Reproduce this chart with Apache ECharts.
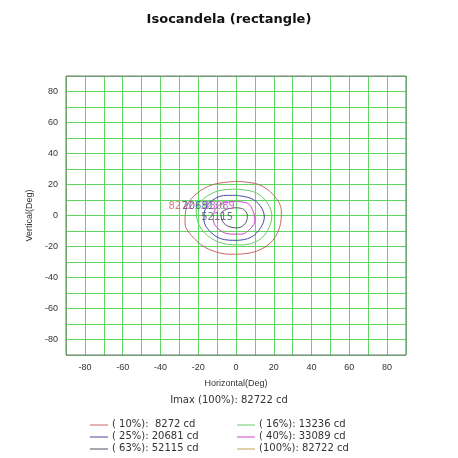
<!DOCTYPE html>
<html><head><meta charset="utf-8">
<script src="https://cdn.jsdelivr.net/npm/echarts@6/dist/echarts.min.js"></script>
<style>html,body{margin:0;padding:0;background:#fff}#c{width:458px;height:458px}</style>
</head><body><div id="c"></div>
<script>
const xTicks = [-80,-60,-40,-20,0,20,40,60,80];
const levelNames = ['( 10%):  8272 cd','( 16%): 13236 cd','( 25%): 20681 cd','( 40%): 33089 cd','( 63%): 52115 cd','(100%): 82722 cd'];
const levelValues = ['8272','13236','20681','33089','52115','82722'];
const colors = ['#c86464','#66cc66','#4646a0','#c846c8','#505064','#c8a050'];
const c10 = [[0,22],[12,20],[20,13],[24,3],[23,-8],[18,-18],[8,-24],[-3,-25],[-14,-22],[-22,-15],[-27,-5],[-26,6],[-21,14],[-12,20],[0,22]];
const c16 = [[0,17],[10,15],[16,9],[19,0],[17,-9],[12,-16],[3,-19],[-7,-18],[-15,-13],[-20,-5],[-21,4],[-17,11],[-9,16],[0,17]];
const c25 = [[0,13],[8,11],[13,6],[15,-1],[13,-8],[8,-14],[0,-16],[-8,-15],[-14,-10],[-17,-3],[-16,5],[-11,11],[-5,13],[0,13]];
const c40 = [[0,9],[6,8],[9,3],[10,-3],[8,-8],[3,-12],[-3,-12],[-9,-9],[-12,-3],[-11,4],[-7,8],[0,9]];
const c63 = [[0,5],[4,4],[6,0],[5,-5],[1,-8],[-4,-7],[-7,-4],[-8,1],[-5,4],[0,5]];
const c100 = [[0,0]];
const labelPos = [[-29,6],[-14,6],[-20,6],[-9,6],[-10,-1],[-6,6]];
const contours = [c10,c16,c25,c40,c63,c100];

const chart = echarts.init(document.getElementById('c'));
const series = contours.map((d,i)=>({type:'line',data:d,showSymbol:false,symbol:'none',smooth:0.35,z:3,
  lineStyle:{color:colors[i],width:1},silent:true,animation:false}));
series.push({type:'scatter',symbolSize:0,silent:true,animation:false,z:4,
  data:labelPos.slice(0,5).map((p,i)=>({value:p,label:{show:true,position:'inside',formatter:levelValues[i],
  color:colors[i],fontSize:10,fontFamily:'DejaVu Sans'}}))});
const graphic=[
  {type:'text',left:'center',top:395,style:{text:'Imax (100%): 82722 cd',fontSize:10,fill:'#333',fontFamily:'DejaVu Sans'}}
];
levelNames.forEach((n,i)=>{
  const col=i%2, row=Math.floor(i/2);
  const x0= col===0?90:237, y0=425+row*12;
  graphic.push({type:'line',shape:{x1:x0,y1:y0,x2:x0+18,y2:y0},style:{stroke:colors[i],lineWidth:1}});
  graphic.push({type:'text',x:x0+22,y:y0-6,style:{text:n,fontSize:10,fill:'#333',fontFamily:'DejaVu Sans'}});
});
graphic.push({type:'rect',shape:{x:66,y:76,width:340,height:279},z:10,silent:true,style:{fill:'none',stroke:'#777',lineWidth:1}});
chart.setOption({
  animation:false,
  title:{text:'Isocandela (rectangle)',left:'center',top:8,textStyle:{fontSize:13,fontWeight:'bold',color:'#111',fontFamily:'DejaVu Sans'}},
  grid:{left:66,right:52,top:76,bottom:103},
  xAxis:{type:'value',min:-90,max:90,interval:10,name:'Horizontal(Deg)',nameLocation:'middle',nameGap:24,
    nameTextStyle:{fontSize:9,color:'#333'},
    axisLine:{show:false},axisTick:{show:false},
    axisLabel:{fontSize:9,color:'#333',formatter:v=>xTicks.includes(v)?String(v):''},
    splitLine:{lineStyle:{color:'#5fd65f',width:1}}},
  yAxis:{type:'value',min:-90,max:90,interval:10,name:'Vertical(Deg)',nameLocation:'middle',nameGap:26,
    nameTextStyle:{fontSize:9,color:'#333'},
    axisLine:{show:false},axisTick:{show:false},
    axisLabel:{fontSize:9,color:'#333',formatter:v=>xTicks.includes(v)?String(v):''},
    splitLine:{lineStyle:{color:'#5fd65f',width:1}}},
  series:series,
  graphic:graphic
});
</script></body></html>
